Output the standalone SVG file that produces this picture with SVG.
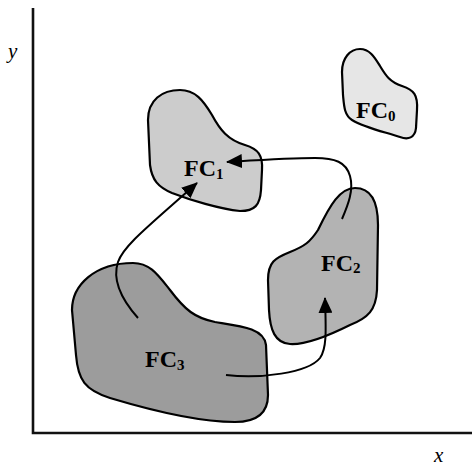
<svg xmlns="http://www.w3.org/2000/svg" width="472" height="467" viewBox="0 0 472 467">
<style>
.blob{stroke:#000;stroke-width:2.2;stroke-linejoin:round}
.lbl{font-family:"Liberation Serif",serif;font-weight:bold;font-size:24px;fill:#000}
.sub{font-size:15px}
.ax{font-family:"Liberation Serif",serif;font-style:italic;font-size:21px;fill:#000}
.conn{fill:none;stroke:#000;stroke-width:2}
</style>
<defs>
<marker id="ah" viewBox="0 0 16 14" refX="15" refY="7" markerWidth="16" markerHeight="14" markerUnits="userSpaceOnUse" orient="auto">
<path d="M0,0 L16,7 L0,14 Z" fill="#000"/>
</marker>
</defs>
<rect width="472" height="467" fill="#fff"/>
<g id="axes">
<path d="M33,8 L33,433 L472,433" fill="none" stroke="#111" stroke-width="2.6"/>
<text class="ax" x="8" y="58">y</text>
<text class="ax" x="434" y="462">x</text>
</g>
<g id="FC3">
<path class="blob" fill="#9c9c9c" d="M133,263 C150,263 158,275 170,290 C185,310 195,318 215,322 C240,326 264,328 266,345 L268,395 C268,412 258,422 235,422 C200,422 150,410 110,398 C85,390 78,380 76,355 L72,310 C72,285 95,263 133,263 Z"/>
<text class="lbl" x="145" y="367">FC<tspan class="sub" dy="3">3</tspan></text>
</g>
<g id="FC2">
<path class="blob" fill="#b3b3b3" d="M355,188 C370,188 378,200 378,225 L377,290 C376,310 368,318 350,325 C330,335 305,345 290,344 C275,343 270,330 269,310 L268,280 C268,262 275,258 290,252 C305,246 310,242 318,230 C330,205 340,188 355,188 Z"/>
<text class="lbl" x="321" y="271">FC<tspan class="sub" dy="2">2</tspan></text>
</g>
<g id="FC1">
<path class="blob" fill="#cccccc" d="M180,90 C195,90 203,100 212,115 C220,130 228,140 245,145 C258,149 263,155 262,170 L261,190 C260,205 255,211 240,211 C220,209 190,200 172,193 C158,187 152,180 150,165 L148,120 C148,100 162,90 180,90 Z"/>
<text class="lbl" x="184" y="176">FC<tspan class="sub" dy="3">1</tspan></text>
</g>
<g id="FC0">
<path class="blob" fill="#e6e6e6" d="M360,49 C370,49 375,58 380,66 C386,76 390,82 402,86 C414,90 418,95 417,110 L416,128 C415,138 408,140 400,137 C385,132 365,128 352,120 C344,115 344,105 343,95 L342,72 C342,58 350,49 360,49 Z"/>
<text class="lbl" x="356" y="118">FC<tspan class="sub" dy="3">0</tspan></text>
</g>
<g id="connectors">
<path class="conn" marker-end="url(#ah)" d="M342,219 C348,205 354,190 350,176 C346,162 335,158 315,158 C290,158 260,160 227,162"/>
<path class="conn" marker-end="url(#ah)" d="M138,318 C122,300 112,280 118,262 C124,245 150,225 197,183"/>
<path class="conn" marker-end="url(#ah)" d="M226,375 C260,379 308,373 320,358 C327,348 326,330 325,298"/>
</g>
</svg>
